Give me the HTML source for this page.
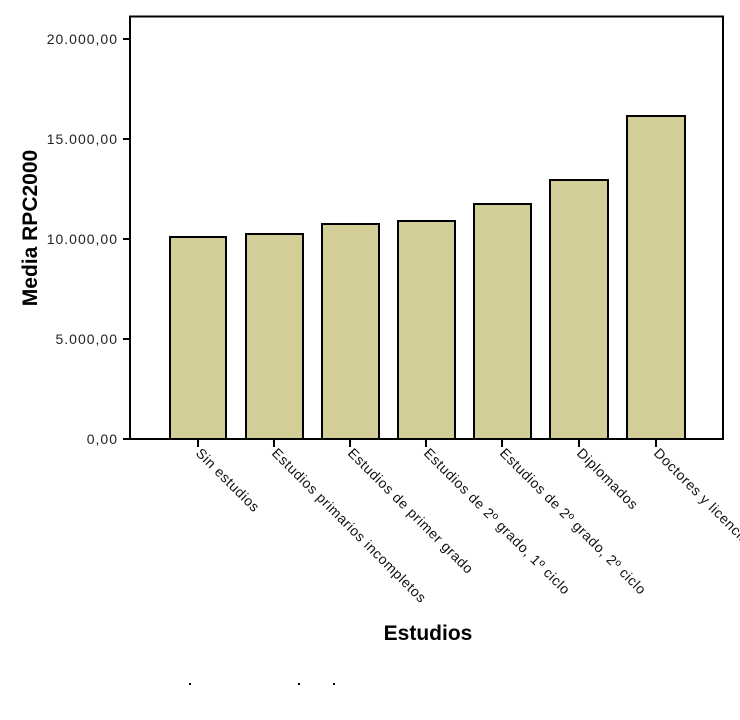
<!DOCTYPE html>
<html><head><meta charset="utf-8"><style>
html,body{margin:0;padding:0;background:#fff;}
svg{display:block;font-family:"Liberation Sans",Arial,sans-serif;}
</style></head><body>
<svg width="740" height="720" viewBox="0 0 740 720" xmlns="http://www.w3.org/2000/svg">
<rect x="130" y="16.5" width="593" height="422.5" fill="none" stroke="#000" stroke-width="2"/>
<g fill="#d3ce98" stroke="#000" stroke-width="2">
<rect x="170" y="237" width="56" height="202"/>
<rect x="246" y="234" width="57" height="205"/>
<rect x="322" y="224" width="57" height="215"/>
<rect x="398" y="221" width="57" height="218"/>
<rect x="474" y="204" width="57" height="235"/>
<rect x="550" y="180" width="58" height="259"/>
<rect x="627" y="116" width="58" height="323"/>
</g>
<g stroke="#000" stroke-width="2">
<line x1="123" y1="39" x2="130" y2="39"/>
<line x1="123" y1="139" x2="130" y2="139"/>
<line x1="123" y1="239" x2="130" y2="239"/>
<line x1="123" y1="339" x2="130" y2="339"/>
<line x1="123" y1="439" x2="130" y2="439"/>
<line x1="198" y1="439" x2="198" y2="447"/>
<line x1="274" y1="439" x2="274" y2="447"/>
<line x1="350" y1="439" x2="350" y2="447"/>
<line x1="426" y1="439" x2="426" y2="447"/>
<line x1="502" y1="439" x2="502" y2="447"/>
<line x1="579" y1="439" x2="579" y2="447"/>
<line x1="656" y1="439" x2="656" y2="447"/>
</g>
<g font-size="14" letter-spacing="1" fill="#222" text-anchor="end">
<text x="118" y="44">20.000,00</text>
<text x="118" y="144">15.000,00</text>
<text x="118" y="244">10.000,00</text>
<text x="118" y="344">5.000,00</text>
<text x="118" y="444">0,00</text>
</g>
<g font-size="14" letter-spacing="0.6" fill="#111">
<text transform="translate(195,454) rotate(45)">Sin estudios</text>
<text transform="translate(271,454) rotate(45)">Estudios primarios incompletos</text>
<text transform="translate(347,454) rotate(45)">Estudios de primer grado</text>
<text transform="translate(423,454) rotate(45)">Estudios de 2º grado, 1º ciclo</text>
<text transform="translate(499,454) rotate(45)">Estudios de 2º grado, 2º ciclo</text>
<text transform="translate(576,454) rotate(45)">Diplomados</text>
<text transform="translate(653,454) rotate(45)">Doctores y licenciados</text>
</g>
<text x="428" y="640" font-size="21" font-weight="bold" text-anchor="middle">Estudios</text>
<text transform="translate(37,228) rotate(-90)" font-size="21" font-weight="bold" text-anchor="middle">Media RPC2000</text>
<g fill="#000"><rect x="189" y="683" width="2" height="2"/><rect x="298" y="683" width="2" height="2"/><rect x="333" y="683" width="2" height="2"/></g>
</svg>
</body></html>
